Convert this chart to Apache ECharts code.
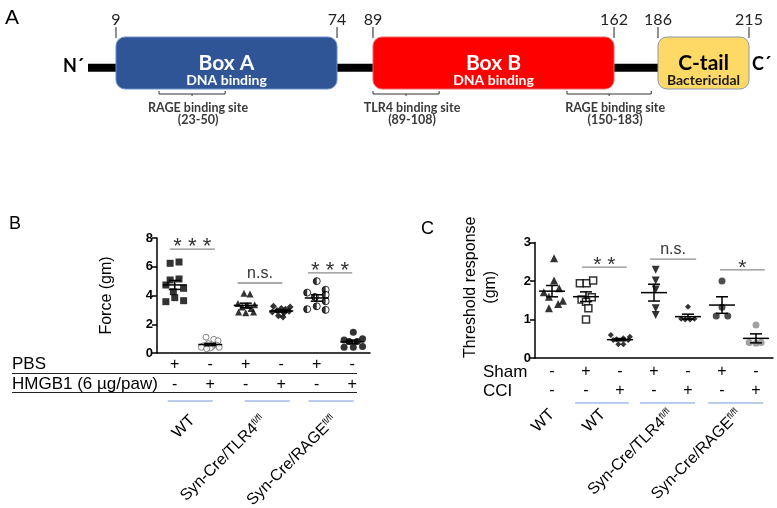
<!DOCTYPE html>
<html><head><meta charset="utf-8">
<script src="https://cdn.jsdelivr.net/npm/echarts@6/dist/echarts.min.js"></script>
<style>html,body{margin:0;padding:0;background:#fff}#c{width:777px;height:508px}</style>
</head><body><div id="c"></div><script>
// ---------- Panel A : HMGB1 domain map (residue numbers) ----------
const proteinLength = 215;
const domainNames = ['Box A', 'Box B', 'C-tail'];
const domainFunctions = ['DNA binding', 'DNA binding', 'Bactericidal'];
const domainStart = [9, 89, 186];
const domainEnd = [74, 162, 215];
const siteNames = ['RAGE binding site', 'TLR4 binding site', 'RAGE binding site'];
const siteStart = [23, 89, 150];
const siteEnd = [50, 108, 183];
const boundaryLabels = [9, 74, 89, 162, 186, 215];

// ---------- Panel B : Force (gm) ----------
const bGroups = ['WT', 'Syn-Cre/TLR4', 'Syn-Cre/RAGE'];
const bGroupSup = ['', 'fl/fl', 'fl/fl'];
const bGroupMembers = [[0, 1], [2, 3], [4, 5]];
const bPBS = ['+', '-', '+', '-', '+', '-'];
const bHMGB1 = ['-', '+', '-', '+', '-', '+'];
const bWtPbs = [6.24, 6.33, 5.08, 5.15, 4.73, 4.5, 4.26, 3.57, 3.85, 3.64];
const bWtPbsX = [-0.13, 0.12, -0.13, 0.12, -0.25, 0.25, -0.04, -0.25, 0.0, 0.25];
const bWtHmg = [1.1, 0.95, 0.85, 0.65, 0.55, 0.5, 0.45, 0.4, 0.4, 0.35, 0.3];
const bWtHmgX = [-0.12, 0.1, 0.22, -0.05, 0.18, -0.2, 0.05, -0.25, 0.25, 0.0, -0.1];
const bTlrPbs = [4.15, 4.1, 3.45, 3.35, 3.3, 3.2, 3.1, 2.85, 2.8, 2.85];
const bTlrPbsX = [-0.05, 0.12, -0.22, 0.25, 0.05, -0.1, 0.15, -0.2, 0.0, 0.22];
const bTlrHmg = [3.25, 3.2, 3.1, 3.05, 2.95, 2.9, 2.85, 2.8, 2.6, 2.5];
const bTlrHmgX = [-0.22, 0.25, 0.0, 0.12, -0.12, 0.22, -0.25, 0.08, -0.08, 0.05];
const bRagePbs = [5.0, 4.4, 4.2, 4.05, 3.9, 3.6, 3.25, 3.05, 3.0];
const bRagePbsX = [0.0, 0.25, -0.27, 0.25, -0.05, 0.25, 0.0, -0.27, 0.25];
const bRageHmg = [1.45, 1.0, 0.9, 0.8, 0.8, 0.45, 0.4, 0.4];
const bRageHmgX = [0.03, 0.29, -0.23, -0.09, 0.14, 0.29, 0.03, -0.23];
const bSigLabels = ['* * *', 'n.s.', '* * *'];
const bSigFrom = [-0.14, 1.77, 3.75];
const bSigTo = [1.13, 3.03, 5.0];
const bSigY = [7.23, 4.87, 5.57];
const bUnderFrom = [-0.2, 1.97, 3.77];
const bUnderTo = [1.07, 3.24, 5.04];

// ---------- Panel C : Threshold response (gm) ----------
const cGroups = ['WT', 'WT', 'Syn-Cre/TLR4', 'Syn-Cre/RAGE'];
const cGroupSup = ['', '', 'fl/fl', 'fl/fl'];
const cGroupMembers = [[0], [1, 2], [3, 4], [5, 6]];
const cSham = ['-', '+', '-', '+', '-', '+', '-'];
const cCCI = ['-', '-', '+', '-', '+', '-', '+'];
const cWt = [2.59, 2.01, 1.71, 1.81, 1.59, 1.49, 1.29, 1.40];
const cWtX = [0.06, 0.06, -0.24, 0.21, -0.09, 0.32, -0.09, 0.18];
const cWtSham = [1.94, 1.94, 2.01, 1.52, 1.58, 1.46, 1.29, 1.0];
const cWtShamX = [-0.18, 0.02, 0.21, -0.13, 0.17, 0.0, 0.07, 0.0];
const cWtCci = [0.6, 0.49, 0.51, 0.55, 0.36, 0.36, 0.47, 0.47];
const cWtCciX = [-0.27, -0.1, 0.1, 0.29, -0.05, 0.1, -0.2, 0.24];
const cTlrSham = [2.29, 2.01, 1.78, 1.29, 1.12];
const cTlrShamX = [0.05, 0.05, 0.05, 0.05, 0.05];
const cTlrCci = [1.33, 1.02, 1.0, 1.0, 1.02];
const cTlrCciX = [0.0, -0.2, -0.08, 0.06, 0.19];
const cRageSham = [2.0, 1.32, 1.09, 1.09];
const cRageShamX = [0.0, 0.0, -0.17, 0.17];
const cRageCci = [0.86, 0.4, 0.38, 0.4];
const cRageCciX = [0.0, -0.2, 0.0, 0.15];
const cSigLabels = ['* *', 'n.s.', '*'];
const cSigFrom = [0.88, 2.88, 4.94];
const cSigTo = [2.2, 4.24, 6.26];
const cSigY = [2.36, 2.57, 2.29];
const cUnderFrom = [0.68, 2.59, 4.59];
const cUnderTo = [2.26, 4.21, 6.21];

// ---------- layout helpers ----------
const FONT = "'Liberation Sans', Arial, sans-serif";
const FONT_A = "Lato, 'Open Sans', sans-serif";
// the schematic in panel A is not drawn to scale: residue -> drawn position
const schematicStops = [[0,0],[9,9.1],[23,23.1],[50,44.6],[74,81],[89,92.7],[108,114.2],[150,155.8],[162,171.1],[183,183.2],[186,185.4],[215,215]];
function warp(r) {
  for (let k = 1; k < schematicStops.length; k++) {
    const [r0, p0] = schematicStops[k - 1], [r1, p1] = schematicStops[k];
    if (r <= r1) return p0 + (p1 - p0) * (r - r0) / (r1 - r0);
  }
  return r;
}
function stats(a) {
  const n = a.length, m = a.reduce((s, v) => s + v, 0) / n;
  const sd = Math.sqrt(a.reduce((s, v) => s + (v - m) * (v - m), 0) / (n - 1));
  return [m, sd / Math.sqrt(n)];
}
function slotOf(members) { const c = members.reduce((s, v) => s + v, 0) / members.length; return Math.round((c + 0.5) * 2); }
function groupAxisData(nCat, groups, sup, members) {
  const arr = [];
  for (let k = 0; k <= nCat * 2; k++) arr.push('');
  groups.forEach((g, i) => { arr[slotOf(members[i])] = sup[i] ? g + '{sup|' + sup[i] + '}' : g; });
  return arr;
}

const bSets = [[bWtPbs, bWtPbsX], [bWtHmg, bWtHmgX], [bTlrPbs, bTlrPbsX], [bTlrHmg, bTlrHmgX], [bRagePbs, bRagePbsX], [bRageHmg, bRageHmgX]];
const bLooks = [
  { symbol: 'rect', symbolSize: 7, itemStyle: { color: '#000' } },
  { symbol: 'circle', symbolSize: 6, itemStyle: { color: '#fff', borderColor: '#666', borderWidth: 1 } },
  { symbol: 'triangle', symbolSize: 7, itemStyle: { color: '#000' } },
  { symbol: 'diamond', symbolSize: 7, itemStyle: { color: '#000' } },
  { symbol: 'circle', symbolSize: 7, itemStyle: { color: '#fff', borderColor: '#000', borderWidth: 1 } },
  { symbol: 'circle', symbolSize: 7, itemStyle: { color: '#000' } }
];
const cSets = [[cWt, cWtX], [cWtSham, cWtShamX], [cWtCci, cWtCciX], [cTlrSham, cTlrShamX], [cTlrCci, cTlrCciX], [cRageSham, cRageShamX], [cRageCci, cRageCciX]];
const cLooks = [
  { symbol: 'triangle', symbolSize: 8, itemStyle: { color: '#000' } },
  { symbol: 'rect', symbolSize: 7, itemStyle: { color: '#fff', borderColor: '#000', borderWidth: 1.5 } },
  { symbol: 'diamond', symbolSize: 6, itemStyle: { color: '#000' } },
  { symbol: 'path://M0,0L10,0L5,9Z', symbolSize: 8, itemStyle: { color: '#000' } },
  { symbol: 'diamond', symbolSize: 6, itemStyle: { color: '#000' } },
  { symbol: 'circle', symbolSize: 7, itemStyle: { color: '#222' } },
  { symbol: 'circle', symbolSize: 7, itemStyle: { color: '#8a8a8a' } }
];

function scatterSeries(sets, looks, xi, yi) {
  return sets.map((s, i) => Object.assign({
    type: 'scatter', xAxisIndex: xi, yAxisIndex: yi, silent: true, z: 3,
    data: s[0].map((v, j) => [i + s[1][j], v])
  }, looks[i]));
}
function errSeries(sets, xi, yi, hw, cw) {
  return {
    type: 'custom', xAxisIndex: xi, yAxisIndex: yi, silent: true, z: 5, clip: false,
    encode: { x: 0, y: 1 },
    data: sets.map((s, i) => [i].concat(stats(s[0]))),
    renderItem(params, api) {
      const x = api.value(0), m = api.value(1), e = api.value(2);
      const c = api.coord([x, m]), hi = api.coord([x, m + e]), lo = api.coord([x, m - e]);
      const st = { stroke: '#000', lineWidth: 1.5 };
      return { type: 'group', children: [
        { type: 'line', shape: { x1: c[0] - hw, y1: c[1], x2: c[0] + hw, y2: c[1] }, style: st },
        { type: 'line', shape: { x1: c[0], y1: lo[1], x2: c[0], y2: hi[1] }, style: st },
        { type: 'line', shape: { x1: c[0] - cw, y1: hi[1], x2: c[0] + cw, y2: hi[1] }, style: st },
        { type: 'line', shape: { x1: c[0] - cw, y1: lo[1], x2: c[0] + cw, y2: lo[1] }, style: st }
      ] };
    }
  };
}
function sigSeries(labels, from, to, ys, xi, yi, starSize) {
  return {
    type: 'custom', xAxisIndex: xi, yAxisIndex: yi, silent: true, z: 5, clip: false,
    encode: { x: [0, 1], y: 2 },
    data: labels.map((l, i) => [from[i], to[i], ys[i]]),
    renderItem(params, api) {
      const p1 = api.coord([api.value(0), api.value(2)]), p2 = api.coord([api.value(1), api.value(2)]);
      const lab = labels[params.dataIndex], isStar = lab.indexOf('*') >= 0;
      return { type: 'group', children: [
        { type: 'line', shape: { x1: p1[0], y1: p1[1], x2: p2[0], y2: p2[1] }, style: { stroke: '#8c8c8c', lineWidth: 1.3 } },
        { type: 'text', style: { text: lab, x: (p1[0] + p2[0]) / 2, y: p1[1] + (isStar ? -2 : -9),
          align: 'center', verticalAlign: 'middle', fontSize: isStar ? starSize : 16, fontFamily: FONT, fill: '#333' } }
      ] };
    }
  };
}
function underSeries(from, to, xi, yi, dy) {
  return {
    type: 'custom', xAxisIndex: xi, yAxisIndex: yi, silent: true, z: 5, clip: false,
    encode: { x: [0, 1] },
    data: from.map((f, i) => [f, to[i], 0]),
    renderItem(params, api) {
      const p1 = api.coord([api.value(0), 0]), p2 = api.coord([api.value(1), 0]);
      return { type: 'line', shape: { x1: p1[0], y1: p1[1] + dy, x2: p2[0], y2: p2[1] + dy }, style: { stroke: '#a3bce6', lineWidth: 1.6 } };
    }
  };
}

const axisBlack = { color: '#000', width: 1.5 };
function mainCatAxis(grid, labels, margin) {
  return { type: 'category', gridIndex: grid, position: 'bottom', data: labels.map((l, i) => 'c' + i), boundaryGap: true,
    axisLine: { onZero: false, lineStyle: axisBlack },
    axisTick: { alignWithLabel: true, length: 5, lineStyle: axisBlack },
    axisLabel: { interval: 0, margin: margin, fontSize: 16, fontFamily: FONT, color: '#000', formatter: (v, i) => labels[i] },
    splitLine: { show: false } };
}
function rowAxis(grid, labels, offset, margin) {
  return { type: 'category', gridIndex: grid, position: 'bottom', offset: offset, data: labels.map((l, i) => 'r' + i), boundaryGap: true,
    axisLine: { show: false, onZero: false }, axisTick: { show: false },
    axisLabel: { interval: 0, margin: margin, fontSize: 16, fontFamily: FONT, color: '#000', formatter: (v, i) => labels[i] },
    splitLine: { show: false } };
}
function groupAxis(grid, nCat, groups, sup, members, offset) {
  const d = groupAxisData(nCat, groups, sup, members);
  return { type: 'category', gridIndex: grid, position: 'bottom', offset: offset, boundaryGap: false,
    data: d.map((t, i) => 'g' + i),
    axisLine: { show: false, onZero: false }, axisTick: { show: false },
    axisLabel: { interval: 0, rotate: 45, margin: 8, fontSize: 16, fontFamily: FONT, color: '#000',
      formatter: (v, i) => d[i],
      rich: { sup: { fontSize: 9, fontFamily: FONT, color: '#000', verticalAlign: 'top', lineHeight: 16 } } },
    splitLine: { show: false } };
}
function valueY(grid, max, interval, name, nameGap, pad) {
  return { type: 'value', gridIndex: grid, min: 0, max: max, interval: interval,
    axisLine: { show: true, onZero: false, lineStyle: axisBlack },
    axisTick: { show: true, length: 5, lineStyle: axisBlack },
    axisLabel: { margin: 4, fontSize: 13, fontWeight: 'bold', fontFamily: FONT, color: '#000' },
    splitLine: { show: false },
    name: name, nameLocation: 'middle', nameGap: nameGap,
    nameTextStyle: { fontSize: 16, fontFamily: FONT, color: '#000', lineHeight: 20, padding: pad } };
}

// ---------- panel A series ----------
const domainFill = ['#2F5597', '#FF0000', '#FFD966'];
const domainStroke = ['#6f8fc9', '#e46a6a', '#8a97ad'];
const domainText = ['#fff', '#fff', '#000'];
const aSeries = [
  { type: 'custom', xAxisIndex: 8, yAxisIndex: 2, silent: true, z: 2, clip: false, encode: { x: [0, 1] },
    data: [[0, proteinLength]],
    renderItem(params, api) {
      const a = api.coord([warp(api.value(0)), 0.41]), b = api.coord([warp(api.value(1)), 0.41]);
      return { type: 'group', children: [
        { type: 'line', shape: { x1: a[0], y1: a[1], x2: b[0] - 20, y2: b[1] }, style: { stroke: '#000', lineWidth: 8 } },
        { type: 'text', style: { text: 'N´', x: a[0] - 4, y: a[1] - 1, align: 'right', verticalAlign: 'middle', fontSize: 18, fontWeight: 'bold', fontFamily: FONT_A, fill: '#000' } },
        { type: 'text', style: { text: 'C´', x: b[0] + 3, y: a[1] - 3, align: 'left', verticalAlign: 'middle', fontSize: 18, fontWeight: 'bold', fontFamily: FONT_A, fill: '#000' } }
      ] };
    } },
  { type: 'custom', xAxisIndex: 8, yAxisIndex: 2, silent: true, z: 3, clip: false, encode: { x: [0, 1] },
    data: domainStart.map((s, i) => [s, domainEnd[i]]),
    renderItem(params, api) {
      const i = params.dataIndex;
      const s = api.coord([warp(api.value(0)), 1]), e = api.coord([warp(api.value(1)), 0]);
      const cx = (s[0] + e[0]) / 2;
      return { type: 'group', children: [
        { type: 'rect', shape: { x: s[0], y: s[1], width: e[0] - s[0], height: e[1] - s[1], r: 9 }, style: { fill: domainFill[i], stroke: domainStroke[i], lineWidth: 1 } },
        { type: 'text', style: { text: domainNames[i], x: cx, y: s[1] + 26, align: 'center', verticalAlign: 'middle', fontSize: 21, fontWeight: 'bold', fontFamily: FONT_A, fill: domainText[i] } },
        { type: 'text', style: { text: domainFunctions[i], x: cx, y: s[1] + 43, align: 'center', verticalAlign: 'middle', fontSize: 14, fontWeight: 'bold', fontFamily: FONT_A, fill: i === 2 ? '#1a1a1a' : '#fff' } }
      ] };
    } },
  { type: 'custom', xAxisIndex: 8, yAxisIndex: 2, silent: true, z: 3, clip: false, encode: { x: 0 },
    data: boundaryLabels.map(r => [r, 1]),
    renderItem(params, api) {
      const p = api.coord([warp(api.value(0)), 1]);
      return { type: 'group', children: [
        { type: 'line', shape: { x1: p[0], y1: p[1] - 10, x2: p[0], y2: p[1] + 1 }, style: { stroke: '#222', lineWidth: 1 } },
        { type: 'text', style: { text: String(api.value(0)), x: p[0], y: p[1] - 17, align: 'center', verticalAlign: 'middle', fontSize: 16, fontFamily: FONT_A, fill: '#222' } }
      ] };
    } },
  { type: 'custom', xAxisIndex: 8, yAxisIndex: 2, silent: true, z: 3, clip: false, encode: { x: [0, 1] },
    data: siteStart.map((s, i) => [s, siteEnd[i]]),
    renderItem(params, api) {
      const i = params.dataIndex;
      const a = api.coord([warp(api.value(0)), 0]), b = api.coord([warp(api.value(1)), 0]);
      const y = a[1] + 5, xm = (a[0] + b[0]) / 2, st = { stroke: '#333', lineWidth: 1, fill: null };
      return { type: 'group', children: [
        { type: 'polyline', shape: { points: [[a[0], y - 3], [a[0], y], [b[0], y], [b[0], y - 3]] }, style: st },
        { type: 'line', shape: { x1: xm, y1: y, x2: xm, y2: y + 2 }, style: st },
        { type: 'text', style: { text: siteNames[i], x: xm + 6, y: y + 14, align: 'center', verticalAlign: 'middle', fontSize: 12.5, fontWeight: 'bold', fontFamily: FONT_A, fill: '#3a3a3a' } },
        { type: 'text', style: { text: '(' + api.value(0) + '-' + api.value(1) + ')', x: xm + 6, y: y + 26, align: 'center', verticalAlign: 'middle', fontSize: 12.5, fontWeight: 'bold', fontFamily: FONT_A, fill: '#3a3a3a' } }
      ] };
    } }
];

// half-filled overlay for RAGE/PBS markers in panel B
const halfDisc = { type: 'scatter', xAxisIndex: 0, yAxisIndex: 0, silent: true, z: 4,
  symbol: 'path://M10,0 A10,10 0 0 0 10,20 Z', symbolKeepAspect: true, symbolSize: 7, symbolOffset: ['-25%', 0],
  itemStyle: { color: '#000' }, data: bRagePbs.map((v, j) => [4 + bRagePbsX[j], v]) };

const option = {
  animation: false,
  backgroundColor: '#fff',
  grid: [
    { left: 157, top: 238, width: 213, height: 115, outerBoundsMode: 'none', containLabel: false },
    { left: 535, top: 242.5, width: 238, height: 115.5, outerBoundsMode: 'none', containLabel: false },
    { left: 88, top: 37, width: 661, height: 52, outerBoundsMode: 'none', containLabel: false }
  ],
  xAxis: [
    { type: 'value', gridIndex: 0, min: -0.5, max: 5.5, show: false, axisLine: { onZero: false } },
    mainCatAxis(0, bPBS, 4),
    rowAxis(0, bHMGB1, 20, 4),
    groupAxis(0, 6, bGroups, bGroupSup, bGroupMembers, 57),
    { type: 'value', gridIndex: 1, min: -0.5, max: 6.5, show: false, axisLine: { onZero: false } },
    mainCatAxis(1, cSham, 6),
    rowAxis(1, cCCI, 19, 6),
    groupAxis(1, 7, cGroups, cGroupSup, cGroupMembers, 46),
    { type: 'value', gridIndex: 2, min: 0, max: proteinLength, show: false, axisLine: { onZero: false } }
  ],
  yAxis: [
    valueY(0, 8, 2, 'Force (gm)', 40, [0, 0, 0, 0]),
    valueY(1, 3, 1, 'Threshold response\n(gm)', 34, [0, 0, 0, 26]),
    { type: 'value', gridIndex: 2, min: 0, max: 1, show: false, axisLine: { onZero: false } }
  ],
  graphic: [
    { type: 'text', x: 5, y: 18, style: { text: 'A', fontSize: 21, fontFamily: FONT, fill: '#000', verticalAlign: 'middle' } },
    { type: 'text', x: 9, y: 224, style: { text: 'B', fontSize: 18, fontFamily: FONT, fill: '#000', verticalAlign: 'middle' } },
    { type: 'text', x: 421, y: 229, style: { text: 'C', fontSize: 18, fontFamily: FONT, fill: '#000', verticalAlign: 'middle' } },
    { type: 'text', x: 12, y: 364, style: { text: 'PBS', fontSize: 17, fontFamily: FONT, fill: '#000', verticalAlign: 'middle' } },
    { type: 'text', x: 12, y: 384, style: { text: 'HMGB1 (6 µg/paw)', fontSize: 17, fontFamily: FONT, fill: '#000', verticalAlign: 'middle' } },
    { type: 'line', shape: { x1: 12, y1: 373.5, x2: 357, y2: 373.5 }, style: { stroke: '#222', lineWidth: 1 } },
    { type: 'line', shape: { x1: 12, y1: 392.5, x2: 357, y2: 392.5 }, style: { stroke: '#222', lineWidth: 1 } },
    { type: 'text', x: 483, y: 372, style: { text: 'Sham', fontSize: 17, fontFamily: FONT, fill: '#000', verticalAlign: 'middle' } },
    { type: 'text', x: 483, y: 391, style: { text: 'CCI', fontSize: 17, fontFamily: FONT, fill: '#000', verticalAlign: 'middle' } }
  ],
  series: [].concat(
    aSeries,
    scatterSeries(bSets, bLooks, 0, 0),
    [halfDisc],
    [errSeries(bSets, 0, 0, 12, 6)],
    [sigSeries(bSigLabels, bSigFrom, bSigTo, bSigY, 0, 0, 22)],
    [underSeries(bUnderFrom, bUnderTo, 0, 0, 48)],
    scatterSeries(cSets, cLooks, 4, 1),
    [errSeries(cSets, 4, 1, 13, 6)],
    [sigSeries(cSigLabels, cSigFrom, cSigTo, cSigY, 4, 1, 21)],
    [underSeries(cUnderFrom, cUnderTo, 4, 1, 45)]
  )
};
const chart = echarts.init(document.getElementById('c'), null, { renderer: 'canvas', width: 777, height: 508 });
chart.setOption(option);
</script></body></html>
